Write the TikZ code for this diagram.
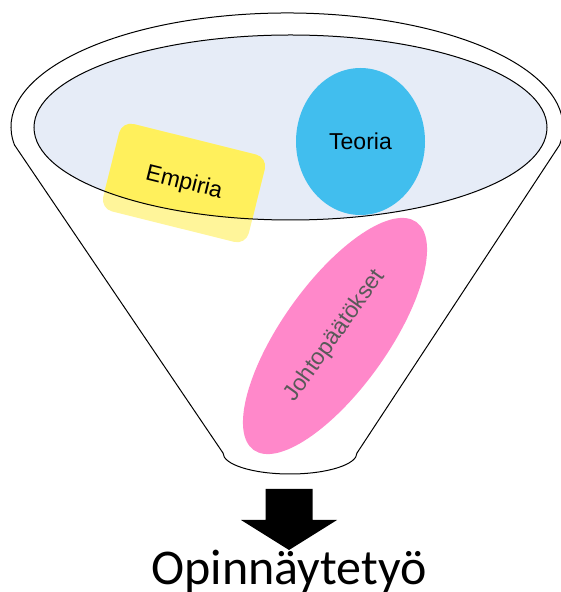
\documentclass[tikz,border=0pt]{standalone}
\usepackage{fontspec}
\setmainfont{Liberation Sans}
\newfontfamily\carlito{Carlito}
\usepackage{xcolor}
\usetikzlibrary{shapes,positioning,calc}

\definecolor{bowlblue}{HTML}{E6ECF7}
\definecolor{teoriablue}{HTML}{41BEEE}
\definecolor{empyellow}{HTML}{FFF05C}
\definecolor{paleyellow}{HTML}{FFF59A}
\definecolor{johtopink}{HTML}{FF88CA}
\definecolor{johtogray}{HTML}{595959}

\begin{document}
\begin{tikzpicture}[x=1pt, y=1pt,
    outline/.style={draw=black, line width=1pt},
    blob/.style={ellipse, inner sep=0pt, font=\fontsize{23}{27}\selectfont},
    card/.style={rectangle, rounded corners=12pt, minimum width=150pt, minimum height=90pt, inner sep=0pt, rotate=-14}]
    \useasboundingbox (0,0) rectangle (561,592);
    % the mouth of the funnel
    \node[blob, fill=bowlblue, minimum width=513pt, minimum height=185pt] (bowl) at (290.5,464.5) {};
    \node[card, fill=paleyellow] (empiria) at (184,409) {};
    \begin{scope}
        \clip (bowl.center) ellipse [x radius=256.5pt, y radius=92.5pt];
        \node[card, fill=empyellow] (empiriaLit) at (empiria) {};
    \end{scope}
    \node[rotate=-14, font=\fontsize{23}{27}\selectfont] (empiriaText) at (empiria) {Empiria};
    \draw[outline] (bowl.center) ellipse [x radius=256.5pt, y radius=92.5pt];
    \node[blob, fill=teoriablue, minimum width=129pt, minimum height=147pt] (teoria) at (360.5,450.5) {Teoria};
    \node[blob, fill=johtopink, text=johtogray, rotate=54.5, minimum width=280pt, minimum height=106pt] (johto) at (335,256) {Johtopäätökset};
    % funnel body
    \coordinate (rimL) at (14.5,447);
    \coordinate (spoutR) at (357,139);
    \draw[outline] (rimL) arc[start angle=189.1, end angle=-9.1, x radius=276pt, y radius=114pt]
        -- (spoutR) arc[start angle=0, end angle=-180, x radius=67pt, y radius=21pt] -- cycle;
    % result
    \fill (265.5,103) -- (312.5,103) -- (312.5,72) -- (337,72) -- (289,42) -- (241,72) -- (265.5,72) -- cycle;
    \node[anchor=base, inner sep=0pt, font=\carlito\fontsize{50}{60}\selectfont] (thesis) at (289,7) {Opinnäytetyö};
\end{tikzpicture}
\end{document}
